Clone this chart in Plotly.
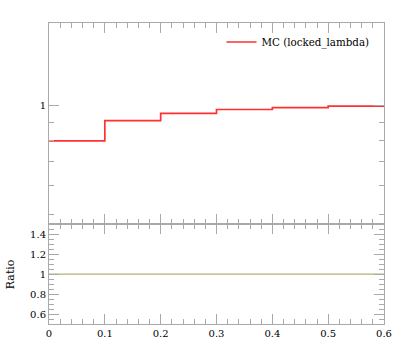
import plotly.graph_objects as go
from plotly.subplots import make_subplots

# Data
bin_edges = [0.0, 0.1, 0.2, 0.3, 0.4, 0.5, 0.6]
mc_values = [0.80, 0.91, 0.953, 0.977, 0.989, 0.998]
ratio_values = [1.0, 1.0, 1.0, 1.0, 1.0, 1.0]
series_name = "MC (locked_lambda)"
ratio_ticks = [0.6, 0.8, 1.0, 1.2, 1.4]
ratio_ticktext = ["0.6", "0.8", "1", "1.2", "1.4"]
x_ticks = [0, 0.1, 0.2, 0.3, 0.4, 0.5, 0.6]
x_ticktext = ["0", "0.1", "0.2", "0.3", "0.4", "0.5", "0.6"]

FONT = "DejaVu Serif, Liberation Serif, serif"
AX = "#aaaaaa"

fig = make_subplots(rows=2, cols=1, shared_xaxes=True, vertical_spacing=0,
                    row_heights=[0.668, 0.332])

fig.add_trace(go.Scatter(
    x=bin_edges, y=mc_values + [mc_values[-1]], mode="lines", line_shape="hv",
    line=dict(color="#ff3030", width=1.7), name=series_name, showlegend=True),
    row=1, col=1)

fig.add_trace(go.Scatter(
    x=bin_edges, y=ratio_values + [ratio_values[-1]], mode="lines", line_shape="hv",
    line=dict(color="#b3b07a", width=1.2), showlegend=False),
    row=2, col=1)

common_x = dict(range=[0, 0.6], showline=True, linecolor=AX, linewidth=1,
                mirror="ticks", ticks="inside", ticklen=10, tickcolor=AX,
                tickvals=x_ticks, ticktext=x_ticktext, automargin=False,
                minor=dict(dtick=0.02, ticks="inside", ticklen=5, tickcolor=AX),
                showgrid=False, zeroline=False)

fig.update_xaxes(**common_x, showticklabels=False, row=1, col=1)
fig.update_xaxes(**common_x, showticklabels=True, row=2, col=1)

fig.update_yaxes(type="log", range=[-0.328, 0.23], showline=True, linecolor=AX,
                 mirror="ticks", ticks="inside", ticklen=10, tickcolor=AX,
                 tickvals=[1], ticktext=["1"], automargin=False,
                 minor=dict(dtick="D1", ticks="inside", ticklen=5, tickcolor=AX),
                 showgrid=False, zeroline=False, row=1, col=1)

fig.update_yaxes(range=[0.5, 1.5], showline=True, linecolor=AX,
                 mirror="ticks", ticks="inside", ticklen=10, tickcolor=AX,
                 tickvals=ratio_ticks, ticktext=ratio_ticktext, automargin=False,
                 minor=dict(dtick=0.05, ticks="inside", ticklen=5, tickcolor=AX),
                 showgrid=False, zeroline=False, row=2, col=1)

fig.add_annotation(text="Ratio", xref="paper", yref="paper", x=-0.116, y=0.166,
                   textangle=-90, showarrow=False, font=dict(size=11, color="black", family=FONT),
                   xanchor="center", yanchor="middle")

fig.update_layout(
    width=397, height=358,
    margin=dict(l=49, r=13, t=23, b=34, autoexpand=False),
    paper_bgcolor="white", plot_bgcolor="white",
    font=dict(family=FONT, size=10, color="black"),
    legend=dict(x=0.515, y=0.985, xanchor="left", yanchor="top",
                bgcolor="rgba(0,0,0,0)", font=dict(size=10.3)),
)

fig.write_html("out.html", config={"displayModeBar": False},
               post_script="document.body.style.margin='0';document.body.style.overflow='hidden';")
